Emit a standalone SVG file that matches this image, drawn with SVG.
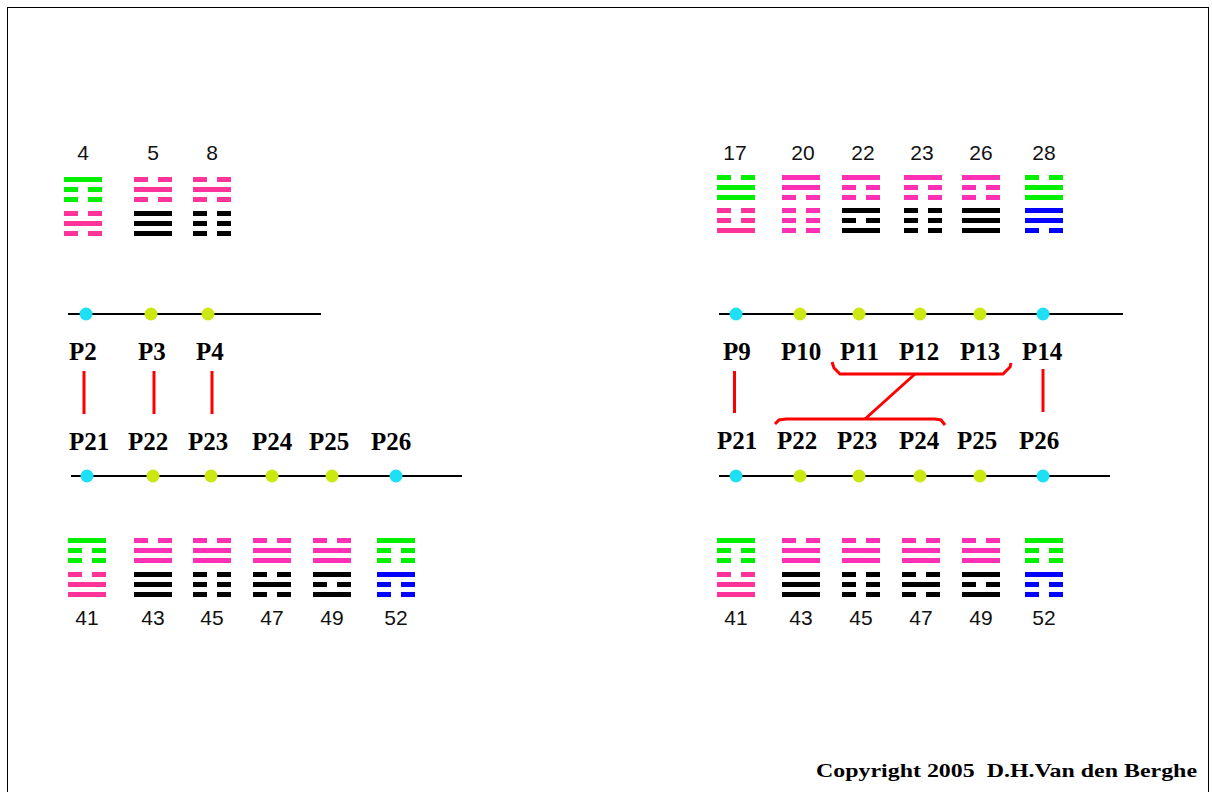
<svg xmlns="http://www.w3.org/2000/svg" xmlns:xlink="http://www.w3.org/1999/xlink" width="1212" height="792" viewBox="0 0 1212 792">
<style>
.num{font-family:"Liberation Sans",Arial,sans-serif;font-size:21px;fill:#111;text-anchor:middle}
.pl{font-family:"Liberation Serif","Times New Roman",serif;font-size:25px;font-weight:bold;fill:#000}
.axis{stroke:#000;stroke-width:2}
.cy{fill:#1ee0f5}
.ye{fill:#cce812}
.g{fill:#00f000}
.p{fill:#ff3399}
.pd{fill:#ff30b4}
.k{fill:#000}
.b{fill:#0000ff}
.red{stroke:#ff0000;stroke-width:3;fill:none}
</style>
<defs>
<g id="Y"><rect width="38" height="5"/></g>
<g id="N"><rect width="14" height="5"/><rect x="24" width="14" height="5"/></g>
</defs>
<rect x="0" y="0" width="1212" height="792" fill="#fff"/>
<rect x="7.5" y="7.5" width="1201" height="800" fill="none" stroke="#000" stroke-width="1"/>

<!-- Top-left hexagrams -->
<g id="hex-4" transform="translate(64,177)">
<use href="#Y" class="g"/><use href="#N" y="10" class="g"/><use href="#N" y="20" class="g"/>
<use href="#N" y="34" class="p"/><use href="#Y" y="44" class="p"/><use href="#N" y="54" class="p"/>
<text class="num" x="19" y="-17">4</text>
</g>
<g id="hex-5" transform="translate(134,177)">
<use href="#N" class="p"/><use href="#Y" y="10" class="p"/><use href="#N" y="20" class="p"/>
<use href="#Y" y="34" class="k"/><use href="#Y" y="44" class="k"/><use href="#Y" y="54" class="k"/>
<text class="num" x="19" y="-17">5</text>
</g>
<g id="hex-8" transform="translate(193,177)">
<use href="#N" class="p"/><use href="#Y" y="10" class="p"/><use href="#N" y="20" class="p"/>
<use href="#N" y="34" class="k"/><use href="#N" y="44" class="k"/><use href="#N" y="54" class="k"/>
<text class="num" x="19" y="-17">8</text>
</g>

<!-- Top-right hexagrams -->
<g id="hex-17" transform="translate(717,175)">
<use href="#N" class="g"/><use href="#Y" y="10" class="g"/><use href="#Y" y="20" class="g"/>
<use href="#N" y="33" class="p"/><use href="#N" y="43" class="p"/><use href="#Y" y="53" class="p"/>
<text class="num" x="18" y="-15">17</text>
</g>
<g id="hex-20" transform="translate(782,175)">
<use href="#Y" class="pd"/><use href="#Y" y="10" class="pd"/><use href="#N" y="20" class="pd"/>
<use href="#N" y="33" class="pd"/><use href="#N" y="43" class="pd"/><use href="#N" y="53" class="pd"/>
<text class="num" x="21" y="-15">20</text>
</g>
<g id="hex-22" transform="translate(842,175)">
<use href="#Y" class="pd"/><use href="#N" y="10" class="pd"/><use href="#N" y="20" class="pd"/>
<use href="#Y" y="33" class="k"/><use href="#N" y="43" class="k"/><use href="#Y" y="53" class="k"/>
<text class="num" x="21" y="-15">22</text>
</g>
<g id="hex-23" transform="translate(904,175)">
<use href="#Y" class="pd"/><use href="#N" y="10" class="pd"/><use href="#N" y="20" class="pd"/>
<use href="#N" y="33" class="k"/><use href="#N" y="43" class="k"/><use href="#N" y="53" class="k"/>
<text class="num" x="18" y="-15">23</text>
</g>
<g id="hex-26" transform="translate(962,175)">
<use href="#Y" class="pd"/><use href="#N" y="10" class="pd"/><use href="#N" y="20" class="pd"/>
<use href="#Y" y="33" class="k"/><use href="#Y" y="43" class="k"/><use href="#Y" y="53" class="k"/>
<text class="num" x="19" y="-15">26</text>
</g>
<g id="hex-28" transform="translate(1025,175)">
<use href="#N" class="g"/><use href="#Y" y="10" class="g"/><use href="#Y" y="20" class="g"/>
<use href="#Y" y="33" class="b"/><use href="#Y" y="43" class="b"/><use href="#N" y="53" class="b"/>
<text class="num" x="19" y="-15">28</text>
</g>

<!-- Bottom-left hexagrams -->
<g id="hexL-41" transform="translate(68,538)">
<use href="#Y" class="g"/><use href="#N" y="10" class="g"/><use href="#N" y="20" class="g"/>
<use href="#N" y="34" class="p"/><use href="#Y" y="44" class="p"/><use href="#Y" y="54" class="p"/>
<text class="num" x="19" y="87">41</text>
</g>
<g id="hexL-43" transform="translate(134,538)">
<use href="#N" class="pd"/><use href="#Y" y="10" class="pd"/><use href="#Y" y="20" class="pd"/>
<use href="#Y" y="34" class="k"/><use href="#Y" y="44" class="k"/><use href="#Y" y="54" class="k"/>
<text class="num" x="19" y="87">43</text>
</g>
<g id="hexL-45" transform="translate(193,538)">
<use href="#N" class="pd"/><use href="#Y" y="10" class="pd"/><use href="#Y" y="20" class="pd"/>
<use href="#N" y="34" class="k"/><use href="#N" y="44" class="k"/><use href="#N" y="54" class="k"/>
<text class="num" x="19" y="87">45</text>
</g>
<g id="hexL-47" transform="translate(253,538)">
<use href="#N" class="pd"/><use href="#Y" y="10" class="pd"/><use href="#Y" y="20" class="pd"/>
<use href="#N" y="34" class="k"/><use href="#Y" y="44" class="k"/><use href="#N" y="54" class="k"/>
<text class="num" x="19" y="87">47</text>
</g>
<g id="hexL-49" transform="translate(313,538)">
<use href="#N" class="pd"/><use href="#Y" y="10" class="pd"/><use href="#Y" y="20" class="pd"/>
<use href="#Y" y="34" class="k"/><use href="#N" y="44" class="k"/><use href="#Y" y="54" class="k"/>
<text class="num" x="19" y="87">49</text>
</g>
<g id="hexL-52" transform="translate(377,538)">
<use href="#Y" class="g"/><use href="#N" y="10" class="g"/><use href="#N" y="20" class="g"/>
<use href="#Y" y="34" class="b"/><use href="#N" y="44" class="b"/><use href="#N" y="54" class="b"/>
<text class="num" x="19" y="87">52</text>
</g>

<!-- Bottom-right hexagrams -->
<g id="hexR-41" transform="translate(717,538)">
<use href="#Y" class="g"/><use href="#N" y="10" class="g"/><use href="#N" y="20" class="g"/>
<use href="#N" y="34" class="p"/><use href="#Y" y="44" class="p"/><use href="#Y" y="54" class="p"/>
<text class="num" x="19" y="87">41</text>
</g>
<g id="hexR-43" transform="translate(782,538)">
<use href="#N" class="pd"/><use href="#Y" y="10" class="pd"/><use href="#Y" y="20" class="pd"/>
<use href="#Y" y="34" class="k"/><use href="#Y" y="44" class="k"/><use href="#Y" y="54" class="k"/>
<text class="num" x="19" y="87">43</text>
</g>
<g id="hexR-45" transform="translate(842,538)">
<use href="#N" class="pd"/><use href="#Y" y="10" class="pd"/><use href="#Y" y="20" class="pd"/>
<use href="#N" y="34" class="k"/><use href="#N" y="44" class="k"/><use href="#N" y="54" class="k"/>
<text class="num" x="19" y="87">45</text>
</g>
<g id="hexR-47" transform="translate(902,538)">
<use href="#N" class="pd"/><use href="#Y" y="10" class="pd"/><use href="#Y" y="20" class="pd"/>
<use href="#N" y="34" class="k"/><use href="#Y" y="44" class="k"/><use href="#N" y="54" class="k"/>
<text class="num" x="19" y="87">47</text>
</g>
<g id="hexR-49" transform="translate(962,538)">
<use href="#N" class="pd"/><use href="#Y" y="10" class="pd"/><use href="#Y" y="20" class="pd"/>
<use href="#Y" y="34" class="k"/><use href="#N" y="44" class="k"/><use href="#Y" y="54" class="k"/>
<text class="num" x="19" y="87">49</text>
</g>
<g id="hexR-52" transform="translate(1025,538)">
<use href="#Y" class="g"/><use href="#N" y="10" class="g"/><use href="#N" y="20" class="g"/>
<use href="#Y" y="34" class="b"/><use href="#N" y="44" class="b"/><use href="#N" y="54" class="b"/>
<text class="num" x="19" y="87">52</text>
</g>

<!-- Axes with dots -->
<g id="axis-top-left">
<line class="axis" x1="68" y1="314" x2="321" y2="314"/>
<circle class="cy" cx="86" cy="314" r="6.5"/>
<circle class="ye" cx="151" cy="314" r="6.5"/>
<circle class="ye" cx="208" cy="314" r="6.5"/>
</g>
<g id="axis-bottom-left">
<line class="axis" x1="71" y1="476" x2="462" y2="476"/>
<circle class="cy" cx="87" cy="476" r="6.5"/>
<circle class="ye" cx="153" cy="476" r="6.5"/>
<circle class="ye" cx="211" cy="476" r="6.5"/>
<circle class="ye" cx="272" cy="476" r="6.5"/>
<circle class="ye" cx="332" cy="476" r="6.5"/>
<circle class="cy" cx="396" cy="476" r="6.5"/>
</g>
<g id="axis-top-right">
<line class="axis" x1="719" y1="314" x2="1123" y2="314"/>
<circle class="cy" cx="736" cy="314" r="6.5"/>
<circle class="ye" cx="800" cy="314" r="6.5"/>
<circle class="ye" cx="859" cy="314" r="6.5"/>
<circle class="ye" cx="920" cy="314" r="6.5"/>
<circle class="ye" cx="980" cy="314" r="6.5"/>
<circle class="cy" cx="1043" cy="314" r="6.5"/>
</g>
<g id="axis-bottom-right">
<line class="axis" x1="719" y1="476" x2="1110" y2="476"/>
<circle class="cy" cx="736" cy="476" r="6.5"/>
<circle class="ye" cx="800" cy="476" r="6.5"/>
<circle class="ye" cx="859" cy="476" r="6.5"/>
<circle class="ye" cx="920" cy="476" r="6.5"/>
<circle class="ye" cx="980" cy="476" r="6.5"/>
<circle class="cy" cx="1043" cy="476" r="6.5"/>
</g>

<!-- P labels -->
<g id="labels-left">
<text class="pl" x="69" y="360">P2</text>
<text class="pl" x="138" y="360">P3</text>
<text class="pl" x="196" y="360">P4</text>
<text class="pl" x="69" y="450">P21</text>
<text class="pl" x="128" y="450">P22</text>
<text class="pl" x="188" y="450">P23</text>
<text class="pl" x="252" y="450">P24</text>
<text class="pl" x="309" y="450">P25</text>
<text class="pl" x="371" y="450">P26</text>
</g>
<g id="labels-right">
<text class="pl" x="723" y="360">P9</text>
<text class="pl" x="781" y="360">P10</text>
<text class="pl" x="840" y="360">P11</text>
<text class="pl" x="899" y="360">P12</text>
<text class="pl" x="960" y="360">P13</text>
<text class="pl" x="1022" y="360">P14</text>
<text class="pl" x="717" y="449">P21</text>
<text class="pl" x="777" y="449">P22</text>
<text class="pl" x="837" y="449">P23</text>
<text class="pl" x="899" y="449">P24</text>
<text class="pl" x="957" y="449">P25</text>
<text class="pl" x="1019" y="449">P26</text>
</g>

<!-- Connectors -->
<g id="connectors">
<line class="red" x1="84" y1="371" x2="84" y2="414"/>
<line class="red" x1="154" y1="371" x2="154" y2="414"/>
<line class="red" x1="212" y1="371" x2="212" y2="414"/>
<line class="red" x1="734.5" y1="371" x2="734.5" y2="413"/>
<line class="red" x1="1043" y1="369" x2="1043" y2="412"/>
<path class="red" d="M832,362 L834,368 L840,374 L1003,374 L1010,367 L1011,363"/>
<line class="red" x1="915" y1="374" x2="865" y2="419"/>
<path class="red" d="M775,424 L779,420 L786,419 L935,419 L941,420 L945,425"/>
</g>

<text x="816" y="777" xml:space="preserve" font-family="'Liberation Serif','Times New Roman',serif" font-weight="bold" font-size="19" fill="#000" textLength="381" lengthAdjust="spacingAndGlyphs">Copyright 2005  D.H.Van den Berghe</text>
</svg>
